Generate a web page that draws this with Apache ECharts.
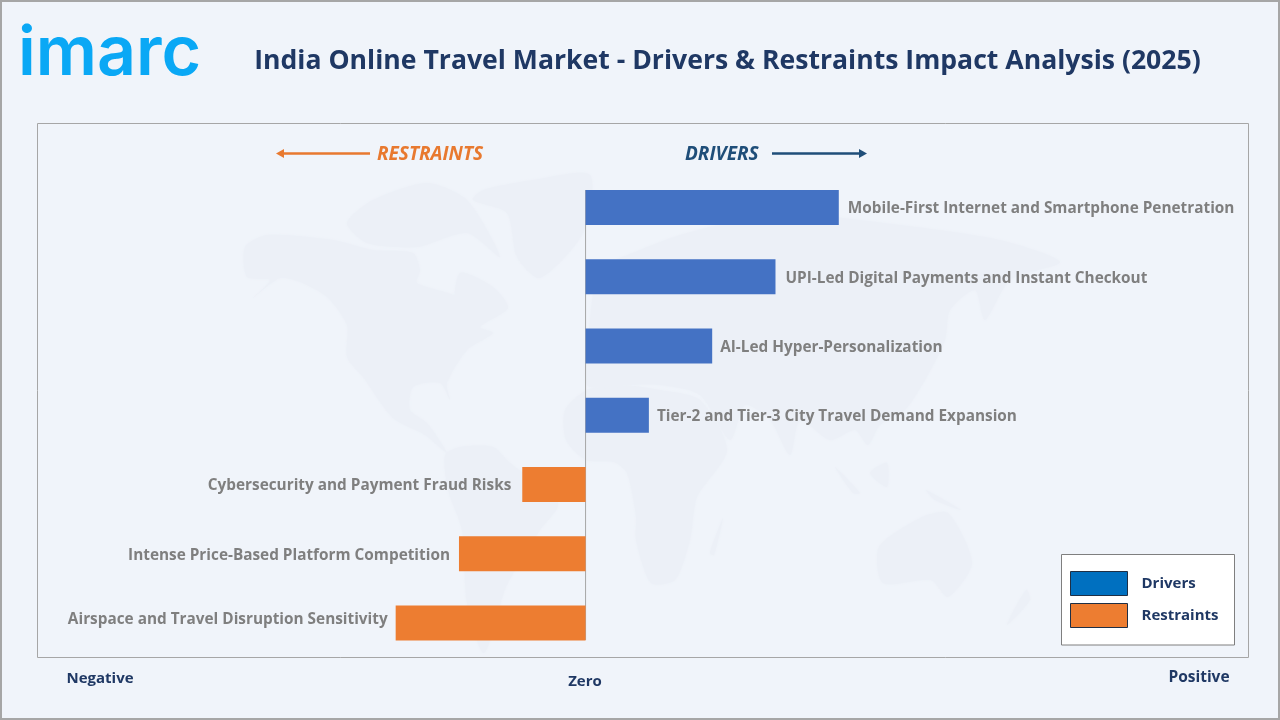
<!DOCTYPE html>
<html><head><meta charset="utf-8">
<style>html,body{margin:0;padding:0;background:#F0F4FA}#c{width:1280px;height:720px}</style>
<script src="https://cdn.jsdelivr.net/npm/echarts@6/dist/echarts.min.js"></script>
</head><body><div id="c"></div>
<script>
const categories = ['Mobile-First Internet and Smartphone Penetration','UPI-Led Digital Payments and Instant Checkout','AI-Led Hyper-Personalization','Tier-2 and Tier-3 City Travel Demand Expansion','Cybersecurity and Payment Fraud Risks','Intense Price-Based Platform Competition','Airspace and Travel Disruption Sensitivity'];
const drivers = [4, 3, 2, 1, null, null, null];
const restraints = [null, null, null, null, -1, -2, -3];
const labelGaps = [9, 10, 8, 8, 11, 9, 8];
const labelShifts = [1.5, 1.5, 2, 1.5, 1.5, 2, -3.5];

const NAVY = '#1F3864', ORANGE = '#ED7D31', BLUE = '#4472C4', GREY = '#7F7F7F';
const BODY = '"Open Sans", sans-serif';

// faint decorative world map behind the chart
const landShapes = [
 [[245,247],[267,235],[333,240],[373,250],[413,253],[420,270],[417,283],[457,297],[453,313],[460,273],[493,287],[508,308],[480,327],[493,333],[467,350],[447,383],[450,400],[440,383],[413,387],[410,410],[427,423],[447,453],[425,435],[393,418],[363,377],[347,357],[347,325],[327,297],[300,282],[280,278],[253,298],[270,280],[247,277]],
 [[483,190],[533,180],[590,175],[583,233],[540,278],[517,257],[507,213],[473,200]],
 [[347,223],[373,200],[427,183],[467,200],[500,257],[467,233],[417,247],[367,243]],
 [[445,455],[460,447],[493,447],[510,463],[558,503],[540,530],[506,587],[484,653],[467,603],[462,530],[448,490]],
 [[565,410],[587,390],[620,385],[660,390],[700,400],[727,450],[697,497],[690,540],[675,580],[651,583],[636,540],[636,517],[627,473],[614,462],[586,460],[566,440]],
 [[590,320],[600,270],[640,250],[680,235],[720,225],[800,215],[900,225],[1000,240],[1060,262],[1010,280],[985,320],[975,290],[950,310],[945,340],[925,380],[905,410],[880,425],[868,445],[855,430],[830,440],[800,420],[790,455],[770,420],[745,405],[730,440],[700,395],[660,385],[620,385],[587,385]],
 [[879,547],[922,517],[948,513],[972,563],[948,597],[931,580],[883,583]],
 [[1026,590],[1030,600],[1007,625]],
 [[723,518],[714,555],[710,553]],
 [[870,473],[887,463],[887,487]],
 [[926,490],[961,510],[935,500]],
 [[835,467],[860,493],[853,493]]
];

function txt(text, x, y, size, color, extra) {
  return {type:'text', x, y, z:5, style:Object.assign({text, fill:color, font:`700 ${size}px ${BODY}`, verticalAlign:'middle', align:'left'}, extra||{})};
}
function arrow(x1, x2, y, color) {
  const dir = x2 > x1 ? 1 : -1;
  return [
    {type:'line', z:5, shape:{x1, y1:y, x2:x2-dir*6, y2:y}, style:{stroke:color, lineWidth:2.5}},
    {type:'polygon', z:5, shape:{points:[[x2,y],[x2-dir*8,y-4.5],[x2-dir*8,y+4.5]]}, style:{fill:color}}
  ];
}

const graphics = [
  {type:'rect', z:-3, shape:{x:1,y:1,width:1278,height:718}, style:{fill:'#F0F4FA', stroke:'#A6A6A6', lineWidth:2}},
  ...landShapes.map(p => ({type:'polygon', z:-2, shape:{points:p, smooth:0.25}, style:{fill:'#ECF0F7', shadowBlur:3, shadowColor:'#ECF0F7'}})),
  {type:'rect', z:-1, shape:{x:37.5,y:123.5,width:1211,height:534}, style:{fill:'transparent', stroke:'#A6A6A6', lineWidth:1}},
  {type:'text', x:18, y:55, z:5, style:{text:'imarc', fill:'#0AA8F5', font:'600 68px Inter, sans-serif', verticalAlign:'middle', align:'left'}},
  txt('India Online Travel Market - Drivers & Restraints Impact Analysis (2025)', 727.5, 61, 26.6, NAVY, {align:'center'}),
  txt('RESTRAINTS', 377, 155, 19, '#E8792F', {font:`italic 700 19px ${BODY}`}),
  txt('DRIVERS', 685, 155, 19, '#1F4E79', {font:`italic 700 19px ${BODY}`}),
  ...arrow(370, 276, 153.5, '#E8792F'),
  ...arrow(772, 867, 153.5, '#1F4E79'),
  txt('Negative', 100, 678.5, 15, NAVY, {align:'center'}),
  txt('Zero', 585, 682, 15, NAVY, {align:'center'}),
  txt('Positive', 1199, 678, 15.5, NAVY, {align:'center'})
];

function barData(values) {
  return values.map((v, i) => v === null ? '-' : ({
    value: v,
    label: {distance: labelGaps[i], offset: [0, labelShifts[i]]}
  }));
}
const barLabel = pos => ({show:true, position:pos, formatter:'{b}', color:GREY, fontFamily:BODY, fontWeight:700, fontSize:15.35});

const chart = echarts.init(document.getElementById('c'));
chart.setOption({
  animation:false,
  backgroundColor:'#F0F4FA',
  graphic:{elements:graphics},
  grid:{left:38, top:172.9, width:1211, height:484.75},
  xAxis:{type:'value', min:-8.65, max:10.48, show:false},
  yAxis:{type:'category', inverse:true, data:categories, axisLine:{show:false}, axisTick:{show:false}, axisLabel:{show:false}},
  legend:{
    orient:'vertical', left:1061.5, top:554.5, padding:[16.5,16,17,8.5], itemWidth:57, itemHeight:24, itemGap:7,
    backgroundColor:'#FFFFFF', borderColor:'#7F7F7F', borderWidth:1, selectedMode:false,
    textStyle:{color:NAVY, fontFamily:BODY, fontWeight:700, fontSize:15, padding:[0,0,0,9]},
    data:[
      {name:'Drivers', icon:'rect', itemStyle:{color:'#0070C0', borderColor:'#1F2F45', borderWidth:1}},
      {name:'Restraints', icon:'rect', itemStyle:{color:ORANGE, borderColor:'#1F2F45', borderWidth:1}}
    ]
  },
  series:[
    {name:'Drivers', type:'bar', stack:'impact', barWidth:35, data:barData(drivers), itemStyle:{color:BLUE}, label:barLabel('right')},
    {name:'Restraints', type:'bar', stack:'impact', barWidth:35, data:barData(restraints), itemStyle:{color:ORANGE}, label:barLabel('left')}
  ]
});
const zeroX = chart.convertToPixel({xAxisIndex:0}, 0);
chart.setOption({graphic:{elements:[{id:'zero-line', type:'line', z:1, shape:{x1:zeroX, y1:190, x2:zeroX, y2:640}, style:{stroke:'#A6A6A6', lineWidth:1}}]}});
</script></body></html>
